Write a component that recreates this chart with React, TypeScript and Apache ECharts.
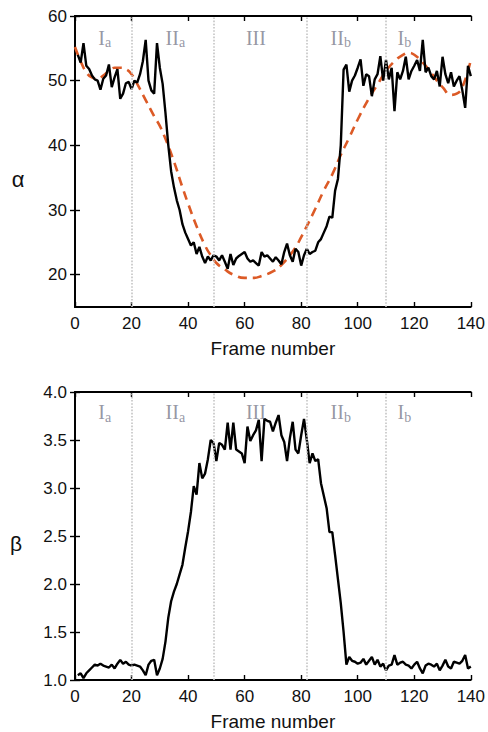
import React, { useEffect, useRef } from "react";
import * as echarts from "echarts";

// frames 1..140
const alphaValues = [
  54.0, 52.8, 55.8, 52.3, 51.8, 50.8, 50.2, 50.0, 48.6, 50.3,
  50.8, 52.5, 49.0, 50.5, 51.8, 47.2, 48.0, 49.6, 49.8, 48.7,
  50.0, 49.7, 51.0, 53.0, 56.3, 50.0, 48.5, 48.0, 55.8, 52.0,
  49.5, 45.0, 40.0, 36.0, 33.5, 31.5, 30.0, 27.8, 26.5, 25.5,
  24.5, 25.0, 23.2, 24.3, 22.8, 21.8, 22.8, 22.2, 23.0, 22.8,
  22.2, 23.0, 22.0, 20.9, 23.2, 21.5, 22.5, 22.9, 23.2, 23.5,
  22.5, 22.0, 22.2, 21.8, 21.4, 23.5, 22.8, 23.0, 22.5, 22.0,
  22.7, 22.2, 21.6, 23.5, 24.8, 23.0, 22.0, 24.0, 23.5, 21.4,
  23.0, 24.0, 23.2, 23.5, 23.7, 25.0, 25.5, 26.5, 27.5, 29.0,
  28.8, 33.0, 34.8, 40.0, 51.7, 52.5, 48.3, 50.0, 50.8, 52.0,
  53.3, 49.2, 51.0, 50.7, 47.6, 50.2, 51.0, 53.8, 50.0, 53.2,
  50.2, 52.0, 45.3, 51.3, 50.2, 51.5, 53.7, 50.2, 51.5, 52.3,
  53.2, 51.5, 56.3, 51.3, 52.0, 50.7, 50.2, 51.5, 49.1, 53.7,
  51.0, 49.6, 51.3, 49.1, 50.0, 50.7, 48.5, 45.8, 52.3, 50.7,
];

const betaValues = [
  1.05, 1.07, 1.02, 1.07, 1.10, 1.13, 1.16, 1.15, 1.17, 1.15,
  1.14, 1.13, 1.16, 1.12, 1.17, 1.21, 1.17, 1.19, 1.16, 1.15,
  1.16, 1.15, 1.14, 1.10, 1.05, 1.16, 1.20, 1.21, 1.05, 1.12,
  1.22, 1.40, 1.65, 1.82, 1.92, 2.00, 2.10, 2.20, 2.38, 2.55,
  2.75, 3.02, 2.93, 3.26, 3.10, 3.15, 3.30, 3.50, 3.47, 3.28,
  3.47, 3.45, 3.40, 3.68, 3.40, 3.68, 3.40, 3.38, 3.36, 3.26,
  3.64, 3.49, 3.55, 3.60, 3.71, 3.28, 3.72, 3.70, 3.69, 3.59,
  3.68, 3.76, 3.55, 3.48, 3.28, 3.52, 3.69, 3.40, 3.36, 3.55,
  3.72, 3.50, 3.26, 3.36, 3.28, 3.30, 3.05, 2.92, 2.79, 2.54,
  2.54, 2.30, 2.05, 1.80, 1.50, 1.16, 1.24, 1.20, 1.19, 1.17,
  1.18, 1.22, 1.16, 1.20, 1.24, 1.16, 1.21, 1.14, 1.17, 1.10,
  1.15, 1.16, 1.26, 1.16, 1.18, 1.19, 1.16, 1.15, 1.12, 1.16,
  1.19, 1.12, 1.07, 1.15, 1.17, 1.16, 1.14, 1.17, 1.10, 1.15,
  1.21, 1.14, 1.12, 1.19, 1.18, 1.17, 1.20, 1.26, 1.12, 1.14,
];

const fitFrames = [0, 2, 4, 6, 8, 10, 12, 14, 16, 18, 20, 22, 25, 28, 30, 32, 35, 38, 40, 43, 46, 48, 50, 53, 56, 60, 63, 66, 70, 73, 76, 78, 80, 82, 85, 88, 91, 94, 97, 100, 104, 107, 110, 113, 116, 118, 120, 123, 125, 128, 130, 133, 135, 137, 140];
const fitValues = [55.2, 53.0, 51.3, 50.5, 50.3, 50.8, 51.5, 52.0, 52.0, 51.8, 51.0, 49.5, 47.0, 44.5, 43.0, 41.0, 37.5, 33.5, 31.0, 27.5, 24.5, 23.0, 21.8, 20.8, 20.0, 19.5, 19.5, 19.8, 20.5, 21.5, 23.0, 24.2, 25.8, 27.5, 30.2, 33.0, 35.5, 38.5, 41.2, 44.0, 47.3, 49.4, 51.5, 53.0, 54.0, 54.3, 54.0, 52.8, 51.8, 50.0, 49.0, 47.8, 48.0, 49.0, 53.2];

const phaseBounds = [20, 49, 82, 110];
const phaseMain = ["I", "II", "III", "II", "I"];
const phaseSub = ["a", "a", "", "b", "b"];
const phaseCenters = [10.5, 35.5, 64, 94, 116.5];
const alphaLabelLevel = 56.6;
const betaLabelLevel = 3.79;

const xTicks = [0, 20, 40, 60, 80, 100, 120, 140];
const alphaTicks = [20, 30, 40, 50, 60];
const betaTicks = [1.0, 1.5, 2.0, 2.5, 3.0, 3.5, 4.0];

const SANS = '"Liberation Sans", Arial, sans-serif';
const SERIF = '"Liberation Serif", "DejaVu Serif", serif';
const LABEL_GRAY = "#7a7c8c";

export default function App() {
  const ref = useRef<HTMLDivElement>(null);

  useEffect(() => {
    if (!ref.current) return;
    const chart = echarts.init(ref.current, undefined, { renderer: "svg" });

    const axisLine = { show: true, lineStyle: { color: "#000", width: 1.8 } };
    const tick = { show: true, inside: true, length: 5, lineStyle: { color: "#000", width: 1.4 } };
    const label = { fontSize: 17, color: "#111", fontFamily: SANS, margin: 8 };

    const xAxisPair = (gi: number) => [
      {
        type: "value", gridIndex: gi, position: "bottom", min: 0, max: 140, interval: 20,
        axisLine, axisTick: tick, axisLabel: label, splitLine: { show: false },
        name: "Frame number", nameLocation: "middle", nameGap: 32,
        nameTextStyle: { fontSize: 19, color: "#111", fontFamily: SANS },
      },
      {
        type: "value", gridIndex: gi, position: "top", min: 0, max: 140, interval: 20,
        axisLine, axisTick: tick, axisLabel: { show: false }, splitLine: { show: false },
      },
    ];

    const phaseSeries = (xi: number, yi: number, level: number) => ({
      type: "scatter", xAxisIndex: xi, yAxisIndex: yi, symbolSize: 0, z: 1, silent: true,
      data: phaseCenters.map((c, i) => ({ value: [c, level], name: String(i) })),
      label: {
        show: true, position: "inside",
        formatter: (p: any) => {
          const i = Number(p.name);
          return phaseSub[i] ? `{m|${phaseMain[i]}}{s|${phaseSub[i]}}` : `{m|${phaseMain[i]}}`;
        },
        rich: {
          m: { fontSize: 20, fontFamily: SERIF, color: LABEL_GRAY },
          s: { fontSize: 14, fontFamily: SERIF, color: LABEL_GRAY, padding: [10, 0, 0, 0] },
        },
      },
      markLine: {
        silent: true, symbol: "none", label: { show: false },
        lineStyle: { type: "dotted", color: "#c4c4c4", width: 1.6 },
        data: phaseBounds.map((b) => ({ xAxis: b })),
      },
    });

    chart.setOption({
      animation: false,
      backgroundColor: "#fff",
      grid: [
        { left: 75, top: 16, right: 14, height: 291 },
        { left: 75, top: 392, right: 14, height: 290 },
      ],
      xAxis: [...xAxisPair(0), ...xAxisPair(1)],
      yAxis: [
        {
          type: "value", gridIndex: 0, position: "left", min: 15, max: 60,
          axisLine, axisTick: { ...tick, customValues: alphaTicks },
          axisLabel: { ...label, customValues: alphaTicks }, splitLine: { show: false },
        },
        {
          type: "value", gridIndex: 0, position: "right", min: 15, max: 60,
          axisLine, axisTick: { ...tick, customValues: alphaTicks },
          axisLabel: { show: false, customValues: alphaTicks }, splitLine: { show: false },
        },
        {
          type: "value", gridIndex: 1, position: "left", min: 1, max: 4, interval: 0.5,
          axisLine, axisTick: tick,
          axisLabel: { ...label, formatter: (v: number) => v.toFixed(1) }, splitLine: { show: false },
        },
        {
          type: "value", gridIndex: 1, position: "right", min: 1, max: 4, interval: 0.5,
          axisLine, axisTick: tick, axisLabel: { show: false }, splitLine: { show: false },
        },
      ],
      graphic: [
        { type: "text", x: 18, y: 179, style: { text: "α", fontSize: 22, fontFamily: SANS, fill: "#111", align: "center", verticalAlign: "middle" } },
        { type: "text", x: 16, y: 543, style: { text: "β", fontSize: 21, fontFamily: SANS, fill: "#111", align: "center", verticalAlign: "middle" } },
      ],
      series: [
        phaseSeries(0, 0, alphaLabelLevel),
        phaseSeries(2, 2, betaLabelLevel),
        {
          type: "line", xAxisIndex: 0, yAxisIndex: 0, z: 3, showSymbol: false, smooth: true,
          data: fitFrames.map((f, i) => [f, fitValues[i]]),
          lineStyle: { color: "#dc5a26", width: 2.6, type: [9, 6] },
        },
        {
          type: "line", xAxisIndex: 0, yAxisIndex: 0, z: 4, showSymbol: false,
          data: alphaValues.map((v, i) => [i + 1, v]),
          lineStyle: { color: "#000", width: 2.4 },
        },
        {
          type: "line", xAxisIndex: 2, yAxisIndex: 2, z: 4, showSymbol: false,
          data: betaValues.map((v, i) => [i + 1, v]),
          lineStyle: { color: "#000", width: 2.4 },
        },
      ],
    });

    return () => chart.dispose();
  }, []);

  return <div ref={ref} style={{ position: "absolute", left: 0, top: 0, width: 488, height: 732 }} />;
}
